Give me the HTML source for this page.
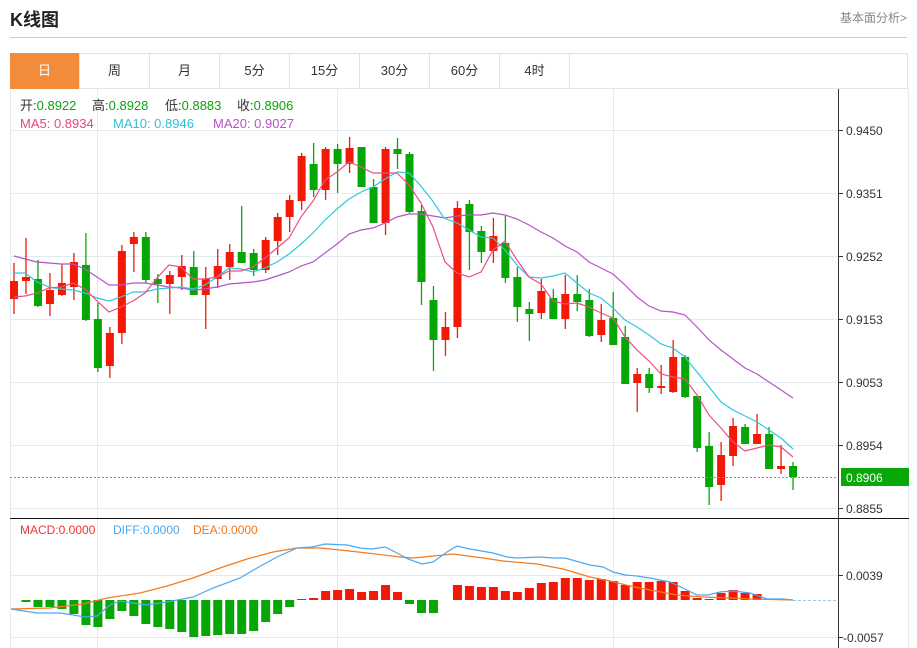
<!DOCTYPE html>
<html><head><meta charset="utf-8">
<style>
body{margin:0;background:#fff;width:917px;height:648px;overflow:hidden;font-family:"Liberation Sans","Noto Sans CJK SC",sans-serif;}
#t{position:absolute;left:10px;top:6px;font-size:18px;font-weight:bold;color:#222;}
#more{position:absolute;right:10px;top:9px;font-size:12px;color:#888;}
#hr{position:absolute;left:10px;top:37px;width:897px;height:1px;background:#ccc;}
.tab{position:absolute;top:53px;width:70px;height:36px;line-height:36px;text-align:center;font-size:13px;color:#333;border-right:1px solid #e3e3e3;box-sizing:border-box;}
svg{position:absolute;left:0;top:0;}
</style></head><body>
<div id="t">K线图</div><div id="more">基本面分析&gt;</div><div id="hr"></div>
<div style="position:absolute;left:10px;top:53px;width:898px;height:36px;border:1px solid #e3e3e3;box-sizing:border-box;"></div>
<div class="tab" style="left:10px;background:#f28b3c;color:#fff;">日</div>
<div class="tab" style="left:80px">周</div><div class="tab" style="left:150px">月</div>
<div class="tab" style="left:220px">5分</div><div class="tab" style="left:290px">15分</div>
<div class="tab" style="left:360px">30分</div><div class="tab" style="left:430px">60分</div>
<div class="tab" style="left:500px">4时</div>
<svg width="917" height="648" id="s" font-family="Liberation Sans, Noto Sans CJK SC, sans-serif">
<g stroke="#e3ebf2" stroke-width="1">
<line x1="10" y1="130.5" x2="838" y2="130.5"/><line x1="10" y1="193.5" x2="838" y2="193.5"/>
<line x1="10" y1="256.5" x2="838" y2="256.5"/><line x1="10" y1="319.5" x2="838" y2="319.5"/>
<line x1="10" y1="382.5" x2="838" y2="382.5"/><line x1="10" y1="445.5" x2="838" y2="445.5"/>
<line x1="10" y1="508.5" x2="838" y2="508.5"/>
<line x1="10" y1="575.5" x2="838" y2="575.5"/><line x1="10" y1="637.5" x2="838" y2="637.5"/>
<line x1="97.5" y1="89" x2="97.5" y2="648"/><line x1="337.5" y1="89" x2="337.5" y2="648"/><line x1="613.5" y1="89" x2="613.5" y2="648"/>
<line x1="10.5" y1="89" x2="10.5" y2="648"/><line x1="908.5" y1="89" x2="908.5" y2="648"/>
</g>
<g id="cd"></g>
<g id="ln" fill="none" stroke-width="1.2"></g>
<line x1="10" y1="477.5" x2="838" y2="477.5" stroke="#33cc33" stroke-dasharray="2,2"/>
<line x1="793" y1="600.5" x2="838" y2="600.5" stroke="#8fd0ee" stroke-dasharray="3,2"/>
<line x1="10" y1="518.5" x2="909" y2="518.5" stroke="#111"/>
<line x1="838.5" y1="89" x2="838.5" y2="648" stroke="#333"/>
<g stroke="#333"><line x1="838" y1="130.5" x2="843" y2="130.5"/><line x1="838" y1="193.5" x2="843" y2="193.5"/><line x1="838" y1="256.5" x2="843" y2="256.5"/><line x1="838" y1="319.5" x2="843" y2="319.5"/><line x1="838" y1="382.5" x2="843" y2="382.5"/><line x1="838" y1="445.5" x2="843" y2="445.5"/><line x1="838" y1="508.5" x2="843" y2="508.5"/><line x1="838" y1="575.5" x2="843" y2="575.5"/><line x1="838" y1="637.5" x2="843" y2="637.5"/></g>
<g font-size="12" fill="#333">
<text x="846" y="135">0.9450</text><text x="846" y="198">0.9351</text><text x="846" y="261">0.9252</text><text x="846" y="324">0.9153</text><text x="846" y="387">0.9053</text><text x="846" y="450">0.8954</text><text x="846" y="513">0.8855</text><text x="846" y="580">0.0039</text><text x="843" y="642">-0.0057</text>
</g>
<rect x="841" y="468" width="68" height="18" fill="#08a808"/>
<text x="846" y="482" font-size="12" fill="#fff">0.8906</text>
<g font-size="13">
<text x="20" y="110" fill="#333">开:<tspan fill="#12a012">0.8922</tspan></text>
<text x="92" y="110" fill="#333">高:<tspan fill="#12a012">0.8928</tspan></text>
<text x="165" y="110" fill="#333">低:<tspan fill="#12a012">0.8883</tspan></text>
<text x="237" y="110" fill="#333">收:<tspan fill="#12a012">0.8906</tspan></text>
<text x="20" y="128" fill="#e9467f">MA5: 0.8934</text>
<text x="113" y="128" fill="#30c0d8">MA10: 0.8946</text>
<text x="213" y="128" fill="#b455c6">MA20: 0.9027</text>
<text x="20" y="534" font-size="12" fill="#ee3333">MACD:0.0000</text>
<text x="113" y="534" font-size="12" fill="#4aa8f0">DIFF:0.0000</text>
<text x="193" y="534" font-size="12" fill="#f07820">DEA:0.0000</text>
</g>
</svg>
<script>
var C=[[1,281,299,263,314],[1,277,281,238,294],[0,279,306,260,307],[1,290,304,273,316],[1,283,295,264,296],[1,262,287,253,300],[0,265,320,233,321],[0,319,368,303,372],[1,333,366,327,378],[1,251,333,245,344],[1,237,244,232,272],[0,237,280,232,283],[0,279,284,274,303],[1,275,284,271,314],[1,266,277,255,290],[0,267,295,251,295],[1,279,295,267,329],[1,266,279,249,288],[1,252,267,244,280],[0,252,263,206,263],[0,253,270,249,276],[1,240,270,237,273],[1,217,241,213,255],[1,200,217,195,232],[1,156,201,153,210],[0,164,190,143,197],[1,149,190,147,200],[0,149,164,144,193],[1,148,164,137,173],[0,147,187,147,187],[0,187,223,179,223],[1,149,223,147,235],[0,149,154,138,169],[0,154,212,152,213],[0,211,282,205,305],[0,300,340,286,371],[1,327,340,312,356],[1,208,327,201,338],[0,204,232,200,270],[0,231,252,226,263],[1,236,251,218,263],[0,243,278,216,283],[0,277,307,267,322],[0,309,314,302,341],[1,291,313,279,319],[0,298,319,289,319],[1,294,319,275,329],[0,294,302,275,311],[0,300,336,289,337],[1,320,335,304,342],[0,318,345,292,345],[0,337,384,326,384],[1,374,383,368,412],[0,374,388,368,393],[1,386,388,365,394],[1,357,392,340,393],[0,357,397,355,398],[0,396,448,396,452],[0,446,487,432,505],[1,455,485,442,501],[1,426,456,418,466],[0,427,444,424,444],[1,434,444,414,444],[0,434,469,427,469],[1,466,469,445,474],[0,466,477,462,490]];
var M=[600,602,607,607,609,614,625,627,619,611,616,624,627,629,632,637,636,635,634,634,631,622,614,607,599,598,591,590,589,592,591,585,592,604,613,613,600,585,586,587,587,591,592,588,583,582,578,578,580,579,581,585,582,582,581,582,591,598,599,593,590,593,594,600,600,600];
var X=function(i){return 14+i*11.985;};
var h='';
for(var i=0;i<C.length;i++){var c=C[i],x=X(i),col=c[0]?'#f21a06':'#06a606';
h+='<line x1="'+x+'" y1="'+c[3]+'" x2="'+x+'" y2="'+c[4]+'" stroke="'+col+'" stroke-width="1.3"/>';
h+='<rect x="'+(x-4)+'" y="'+c[1]+'" width="8" height="'+Math.max(1,c[2]-c[1])+'" fill="'+col+'"/>';
var m=M[i];if(m!=600){var t=Math.min(m,600),b=Math.max(m,600);h+='<rect x="'+(x-4.5)+'" y="'+t+'" width="9" height="'+(b-t)+'" fill="'+(m<600?'#f21a06':'#06a606')+'"/>';}}
document.getElementById('cd').innerHTML=h;
function P(a,col){var s='';for(var i=0;i<a.length;i+=2)s+=a[i]+','+a[i+1]+' ';return '<polyline points="'+s+'" stroke="'+col+'"/>';}
var ma5=[14,297,25,296,37,293,49,288,61,287,73,283,85,289,97,301,109,312,121,307,133,301,145,293,157,278,169,265,181,267,193,279,205,279,217,277,229,271,241,271,253,267,265,258,277,248,289,238,301,217,313,201,325,180,337,172,349,162,361,167,373,173,385,173,397,173,409,185,421,203,433,227,445,262,457,273,469,277,481,272,493,250,505,241,517,260,529,277,541,284,553,301,565,304,577,303,589,307,601,313,613,318,625,337,637,350,649,361,661,374,673,377,685,379,697,395,709,415,721,428,733,442,745,451,757,448,769,445,781,447,793,457];
var ma10=[14,273,25,273,37,282,49,287,61,289,73,290,85,293,97,298,109,301,121,297,133,292,145,292,157,289,169,288,181,287,193,289,205,285,217,277,229,268,241,269,253,272,265,268,277,262,289,254,301,244,313,233,325,220,337,209,349,199,361,192,373,187,385,179,397,172,409,173,420,185,432,200,444,218,457,223,469,230,481,237,493,238,505,250,517,265,529,277,541,278,553,276,565,273,577,283,589,293,601,298,613,308,625,320,637,327,649,335,661,344,673,348,685,357,697,372,709,387,721,402,733,410,745,416,757,422,769,430,781,438,793,449];
var ma20=[14,256,25,259,37,262,49,263,61,264,73,264,85,269,97,277,109,285,121,285,133,283,145,283,157,285,169,287,181,288,193,290,205,289,217,287,229,284,241,283,253,282,265,280,277,276,289,272,301,266,313,262,325,253,337,244,349,234,361,230,373,228,385,223,397,217,409,214,421,214,433,216,445,218,457,216,469,215,481,215,493,213,505,215,517,219,529,225,541,232,553,238,565,246,577,252,589,262,601,268,613,274,625,285,637,297,649,306,661,311,673,312,685,315,697,327,709,340,721,350,733,359,745,368,757,374,769,382,781,390,793,398];
var dif=[11,609,37,613,60,613,73,615,85,617,97,616,110,605,120,601,133,603,147,605,167,602,193,597,213,588,240,578,257,568,277,557,297,548,312,547,325,544,347,545,360,548,372,549,385,547,397,553,408,559,422,564,433,562,447,552,457,546,470,549,493,553,507,557,517,558,540,557,553,558,565,558,590,565,603,567,613,572,625,575,637,576,650,578,670,582,683,588,697,595,708,595,720,592,733,591,750,593,767,599,783,599,793,600];
var dea=[11,609,50,608,83,604,107,598,140,593,167,586,193,578,220,568,247,559,273,552,297,548,320,548,340,550,367,553,400,557,413,558,433,556,453,554,483,558,503,561,537,564,563,569,590,577,610,581,630,586,650,590,677,595,703,597,730,598,750,599,793,600];
document.getElementById('ln').innerHTML=P(ma20,'#b455c6')+P(ma10,'#30c8dc')+P(ma5,'#ec4f86')+P(dea,'#f47a1c')+P(dif,'#4aa8f0');
</script>
</body></html>
